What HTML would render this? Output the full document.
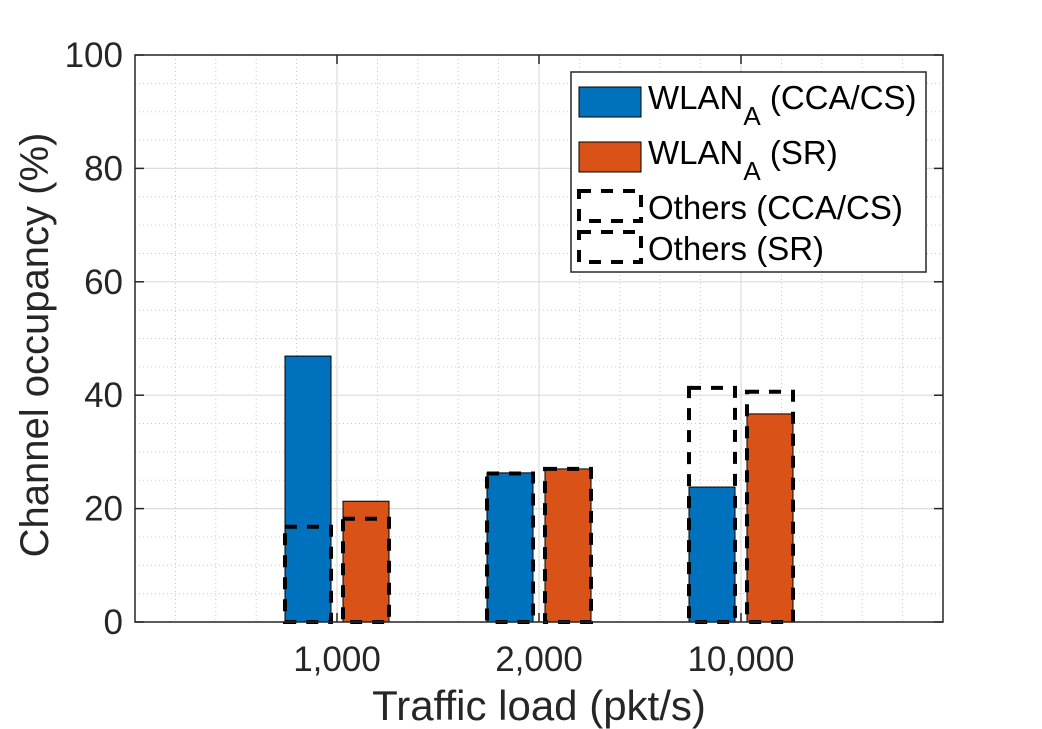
<!DOCTYPE html>
<html><head><meta charset="utf-8"><style>
html,body{margin:0;padding:0;background:#fff;}
svg{display:block;font-family:"Liberation Sans",Arial,sans-serif;}
</style></head><body>
<svg id="chart" width="1042" height="729" viewBox="0 0 1042 729">
<g id="grid"></g>
<g id="bars"></g>
<g id="axes"></g>
<text transform="translate(48,345) rotate(-90)" text-anchor="middle" font-size="40" fill="#262626">Channel occupancy (%)</text>
<text x="539" y="720" text-anchor="middle" font-size="42" fill="#262626">Traffic load (pkt/s)</text>
<g>
<rect x="571" y="72" width="355" height="200" fill="#fff" stroke="#262626" stroke-width="1.5"/>
<g>
<rect x="579" y="87" width="62" height="30" fill="#0072BD" stroke="#000" stroke-width="1"/>
<text x="648" y="109" font-size="33" fill="#000">WLAN<tspan font-size="26" dy="16">A</tspan><tspan dy="-16"> (CCA/CS)</tspan></text>
</g>
<g>
<rect x="579" y="142" width="62" height="30" fill="#D95319" stroke="#000" stroke-width="1"/>
<text x="648" y="164" font-size="33" fill="#000">WLAN<tspan font-size="26" dy="16">A</tspan><tspan dy="-16"> (SR)</tspan></text>
</g>
<g>
<rect x="579" y="191" width="62" height="30" fill="none" stroke="#000" stroke-width="4" stroke-dasharray="12 10"/>
<text x="648" y="219" font-size="33" fill="#000">Others (CCA/CS)</text>
</g>
<g>
<rect x="579" y="232" width="62" height="30" fill="none" stroke="#000" stroke-width="4" stroke-dasharray="12 10"/>
<text x="648" y="260" font-size="33" fill="#000">Others (SR)</text>
</g>
</g>
</svg>
<script>
const categories = ["1,000", "2,000", "10,000"];
const wlanCca = [46.9, 26.3, 23.8];
const wlanSr = [21.3, 27.0, 36.7];
const othersCca = [16.8, 26.2, 41.3];
const othersSr = [18.2, 27.0, 40.6];
const yTicks = [0, 20, 40, 60, 80, 100];

const NS = "http://www.w3.org/2000/svg";
const L = 135, R = 943, T = 55, B = 622;
const xs = i => L + (i + 1) * (R - L) / 4;
const ys = v => B - v / 100 * (B - T);
function mk(tag, attrs, parent) {
  const e = document.createElementNS(NS, tag);
  for (const k in attrs) e.setAttribute(k, attrs[k]);
  parent.appendChild(e); return e;
}
const grid = document.getElementById('grid');
const bars = document.getElementById('bars');
const axes = document.getElementById('axes');
for (let v = 0; v <= 100; v += 5) {
  if (v % 20 === 0) continue;
  const l = mk('line', {x1: L, x2: R, y1: ys(v), y2: ys(v), stroke: '#c8c8c8', 'stroke-width': 1, 'stroke-dasharray': '1 3'}, grid);
  
  
}
const step = (R - L) / 20;
for (let k = 1; k < 20; k++) {
  if (k % 5 === 0) continue;
  const x = L + k * step;
  const l = mk('line', {x1: x, x2: x, y1: T, y2: B, stroke: '#c8c8c8', 'stroke-width': 1, 'stroke-dasharray': '1 3'}, grid);
  
  
}
yTicks.forEach(v => {
  const l = mk('line', {x1: L, x2: R, y1: ys(v), y2: ys(v), stroke: '#dcdcdc', 'stroke-width': 1.2}, grid);
  
  
});
categories.forEach((c, i) => {
  const l = mk('line', {x1: xs(i), x2: xs(i), y1: T, y2: B, stroke: '#dcdcdc', 'stroke-width': 1.2}, grid);
  
  
});
const bw = 46, off = 29;
categories.forEach((c, i) => {
  const x1 = xs(i) - off - bw / 2, x2 = xs(i) + off - bw / 2;
  let r = mk('rect', {x: x1, y: ys(wlanCca[i]), width: bw, height: B - ys(wlanCca[i]), fill: '#0072BD', stroke: '#000', 'stroke-width': 1}, bars);
  
  
  r = mk('rect', {x: x2, y: ys(wlanSr[i]), width: bw, height: B - ys(wlanSr[i]), fill: '#D95319', stroke: '#000', 'stroke-width': 1}, bars);
  
  
  r = mk('rect', {x: x1, y: ys(othersCca[i]), width: bw, height: B - ys(othersCca[i]), fill: 'none', stroke: '#000', 'stroke-width': 4, 'stroke-dasharray': '12 10'}, bars);
  
  
  r = mk('rect', {x: x2, y: ys(othersSr[i]), width: bw, height: B - ys(othersSr[i]), fill: 'none', stroke: '#000', 'stroke-width': 4, 'stroke-dasharray': '12 10'}, bars);
  
  
});
const box = mk('rect', {x: L, y: T, width: R - L, height: B - T, fill: 'none', stroke: '#262626', 'stroke-width': 1.5}, axes);


yTicks.forEach(v => {
  mk('line', {x1: L, x2: L + 9, y1: ys(v), y2: ys(v), stroke: '#262626', 'stroke-width': 1.5}, axes);
  mk('line', {x1: R, x2: R - 9, y1: ys(v), y2: ys(v), stroke: '#262626', 'stroke-width': 1.5}, axes);
  const t = mk('text', {x: L - 12, y: ys(v) + 12, 'text-anchor': 'end', 'font-size': 35, fill: '#262626'}, axes);
  t.textContent = v;
  
  
});
categories.forEach((c, i) => {
  mk('line', {x1: xs(i), x2: xs(i), y1: B, y2: B - 9, stroke: '#262626', 'stroke-width': 1.5}, axes);
  mk('line', {x1: xs(i), x2: xs(i), y1: T, y2: T + 9, stroke: '#262626', 'stroke-width': 1.5}, axes);
  const t = mk('text', {x: xs(i), y: 671, 'text-anchor': 'middle', 'font-size': 35, fill: '#262626'}, axes);
  t.textContent = c;
  
  
});
</script>
</body></html>
